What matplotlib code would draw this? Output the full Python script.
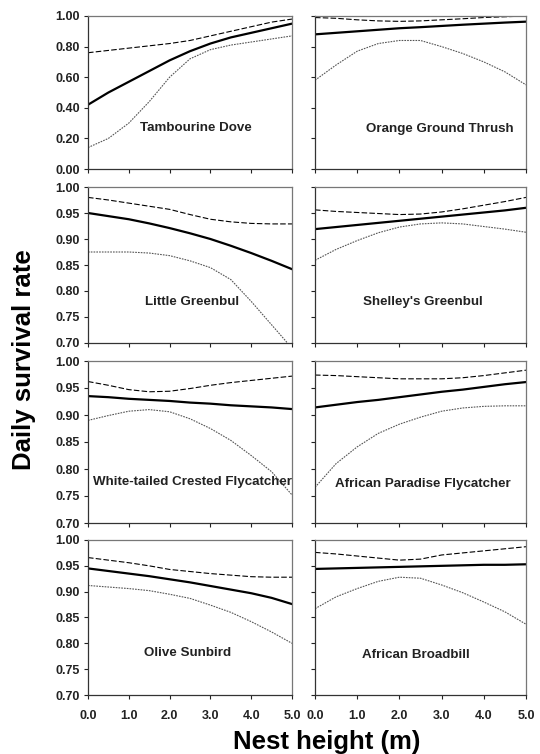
import matplotlib
matplotlib.use("Agg")
import matplotlib.pyplot as plt

plt.rcParams['font.family'] = ['Liberation Sans', 'DejaVu Sans']
plt.rcParams['font.weight'] = 'bold'

heights = [0.0, 0.5, 1.0, 1.5, 2.0, 2.5, 3.0, 3.5, 4.0, 4.5, 5.0]

species = ["Tambourine Dove", "Orange Ground Thrush",
           "Little Greenbul", "Shelley's Greenbul",
           "White-tailed Crested Flycatcher", "African Paradise Flycatcher",
           "Olive Sunbird", "African Broadbill"]

# daily survival rate: estimate, upper and lower 95% limits
dove_mean = [0.42, 0.50, 0.57, 0.64, 0.71, 0.77, 0.82, 0.86, 0.89, 0.92, 0.95]
dove_upper = [0.76, 0.775, 0.79, 0.805, 0.82, 0.84, 0.87, 0.90, 0.93, 0.96, 0.98]
dove_lower = [0.14, 0.20, 0.30, 0.44, 0.60, 0.72, 0.78, 0.81, 0.83, 0.85, 0.87]

thrush_mean = [0.88, 0.89, 0.90, 0.91, 0.92, 0.927, 0.935, 0.943, 0.95, 0.957, 0.963]
thrush_upper = [0.99, 0.985, 0.975, 0.968, 0.965, 0.968, 0.975, 0.982, 0.99, 0.995, 1.0]
thrush_lower = [0.58, 0.68, 0.77, 0.82, 0.84, 0.84, 0.80, 0.755, 0.70, 0.635, 0.55]

lgreenbul_mean = [0.95, 0.944, 0.938, 0.93, 0.921, 0.911, 0.90, 0.887, 0.873, 0.858, 0.842]
lgreenbul_upper = [0.98, 0.975, 0.969, 0.963, 0.957, 0.947, 0.938, 0.933, 0.930, 0.929, 0.929]
lgreenbul_lower = [0.875, 0.875, 0.875, 0.873, 0.868, 0.858, 0.845, 0.822, 0.78, 0.735, 0.69]

sgreenbul_mean = [0.919, 0.923, 0.927, 0.931, 0.935, 0.939, 0.943, 0.947, 0.951, 0.955, 0.96]
sgreenbul_upper = [0.956, 0.953, 0.951, 0.949, 0.947, 0.948, 0.952, 0.958, 0.965, 0.972, 0.98]
sgreenbul_lower = [0.859, 0.88, 0.897, 0.912, 0.923, 0.929, 0.931, 0.929, 0.924, 0.919, 0.913]

wtcf_mean = [0.935, 0.933, 0.93, 0.928, 0.926, 0.923, 0.921, 0.918, 0.916, 0.914, 0.911]
wtcf_upper = [0.962, 0.955, 0.947, 0.943, 0.944, 0.949, 0.955, 0.96, 0.964, 0.968, 0.972]
wtcf_lower = [0.89, 0.899, 0.907, 0.91, 0.906, 0.893, 0.875, 0.853, 0.825, 0.795, 0.752]

apf_mean = [0.914, 0.919, 0.924, 0.928, 0.933, 0.938, 0.943, 0.947, 0.952, 0.957, 0.961]
apf_upper = [0.974, 0.973, 0.971, 0.969, 0.967, 0.967, 0.967, 0.969, 0.973, 0.978, 0.983]
apf_lower = [0.766, 0.81, 0.841, 0.866, 0.883, 0.896, 0.907, 0.913, 0.916, 0.917, 0.917]

sunbird_mean = [0.945, 0.94, 0.935, 0.93, 0.924, 0.918, 0.911, 0.904, 0.897, 0.888, 0.876]
sunbird_upper = [0.966, 0.961, 0.956, 0.95, 0.943, 0.939, 0.935, 0.932, 0.929, 0.928, 0.928]
sunbird_lower = [0.912, 0.909, 0.906, 0.902, 0.895, 0.887, 0.874, 0.86, 0.842, 0.822, 0.80]

broadbill_mean = [0.944, 0.945, 0.946, 0.947, 0.948, 0.949, 0.95, 0.951, 0.952, 0.952, 0.953]
broadbill_upper = [0.976, 0.973, 0.969, 0.965, 0.961, 0.963, 0.971, 0.975, 0.979, 0.983, 0.987]
broadbill_lower = [0.867, 0.89, 0.906, 0.92, 0.928, 0.926, 0.913, 0.898, 0.88, 0.861, 0.837]

means = [dove_mean, thrush_mean, lgreenbul_mean, sgreenbul_mean,
         wtcf_mean, apf_mean, sunbird_mean, broadbill_mean]
uppers = [dove_upper, thrush_upper, lgreenbul_upper, sgreenbul_upper,
          wtcf_upper, apf_upper, sunbird_upper, broadbill_upper]
lowers = [dove_lower, thrush_lower, lgreenbul_lower, sgreenbul_lower,
          wtcf_lower, apf_lower, sunbird_lower, broadbill_lower]

# label positions inside each panel (axes fraction)
label_pos = [(0.53, 0.27), (0.59, 0.26), (0.51, 0.26), (0.51, 0.26),
             (0.51, 0.25), (0.51, 0.24), (0.49, 0.27), (0.48, 0.26)]

W, H = 540, 754
fig = plt.figure(figsize=(W / 100, H / 100), dpi=100)

cols = [(88, 292), (315, 526)]
rows = [(16, 169), (187, 343), (361, 523), (540, 695)]

for i, name in enumerate(species):
    r, c = divmod(i, 2)
    x0, x1 = cols[c]
    y0, y1 = rows[r]
    ax = fig.add_axes([x0 / W, 1 - y1 / H, (x1 - x0) / W, (y1 - y0) / H])
    ax.plot(heights, uppers[i], color="black", lw=0.8, ls=(0, (5, 2)))
    ax.plot(heights, lowers[i], color="#555555", lw=0.8, ls=(0, (1.5, 1)))
    ax.plot(heights, means[i], color="black", lw=1.6)
    ax.set_xlim(0, 5)
    ax.set_xticks([0, 1, 2, 3, 4, 5])
    if r == 0:
        ax.set_ylim(0, 1)
        ax.set_yticks([0, 0.2, 0.4, 0.6, 0.8, 1.0])
    else:
        ax.set_ylim(0.70, 1.00)
        ax.set_yticks([0.70, 0.75, 0.80, 0.85, 0.90, 0.95, 1.00])
    if c == 0:
        ax.set_yticklabels(["{:.2f}".format(v) for v in ax.get_yticks()])
    else:
        ax.set_yticklabels([])
    if r == 3:
        ax.set_xticklabels(["0.0", "1.0", "2.0", "3.0", "4.0", "5.0"])
    else:
        ax.set_xticklabels([])
    ax.tick_params(direction="out", length=3, width=0.8, labelsize=9,
                   colors="#222222", pad=3)
    ax.tick_params(axis="x", pad=8)
    for s in ax.spines.values():
        s.set_linewidth(0.9)
        s.set_color("#333333")
    ax.spines["top"].set_color("#777777")
    ax.spines["right"].set_color("#777777")
    ax.text(label_pos[i][0], label_pos[i][1], name, transform=ax.transAxes,
            ha="center", va="center", fontsize=9.6, fontweight="bold",
            color="#222222")

fig.text(24 / W, 1 - 360 / H, "Daily survival rate", rotation=90,
         ha="center", va="center", fontsize=18.5, fontweight="bold")
fig.text(327 / W, 1 - 742 / H, "Nest height (m)", ha="center", va="center",
         fontsize=18.5, fontweight="bold")

fig.savefig("out.png", dpi=100)
